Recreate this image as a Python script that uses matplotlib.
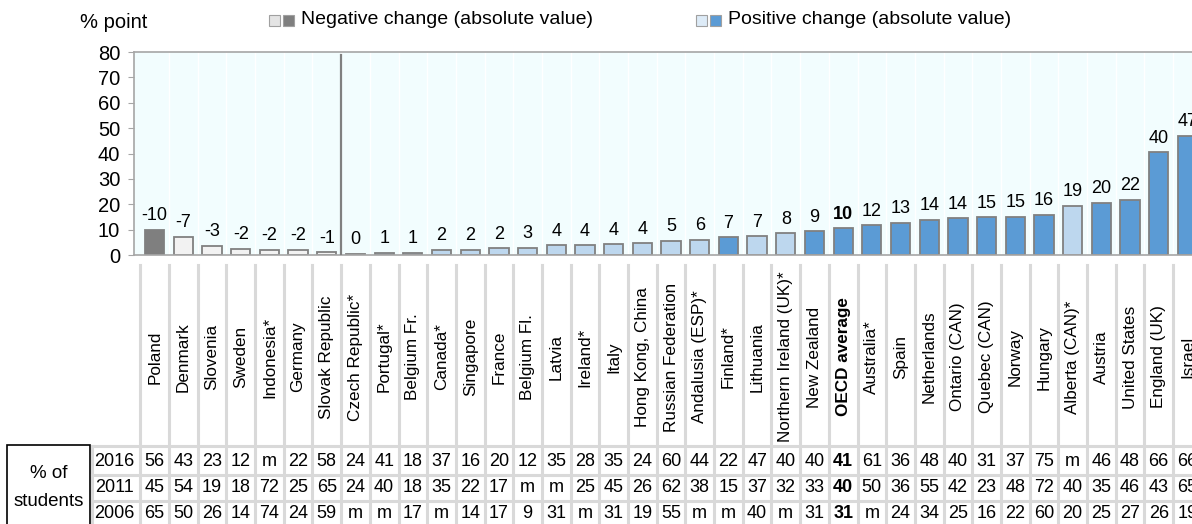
import matplotlib
matplotlib.use("Agg")
import matplotlib.pyplot as plt
import matplotlib.transforms as mtransforms
from matplotlib.patches import Rectangle
from matplotlib.lines import Line2D

countries = [
    "Poland", "Denmark", "Slovenia", "Sweden", "Indonesia*", "Germany",
    "Slovak Republic", "Czech Republic*", "Portugal*", "Belgium Fr.", "Canada*",
    "Singapore", "France", "Belgium Fl.", "Latvia", "Ireland*", "Italy",
    "Hong Kong, China", "Russian Federation", "Andalusia (ESP)*", "Finland*",
    "Lithuania", "Northern Ireland (UK)*", "New Zealand", "OECD average",
    "Australia*", "Spain", "Netherlands", "Ontario (CAN)", "Quebec (CAN)",
    "Norway", "Hungary", "Alberta (CAN)*", "Austria", "United States",
    "England (UK)", "Israel",
]
# absolute change (bar height) and printed label
change_abs = [9.9, 7.1, 3.7, 2.4, 2.0, 2.0, 1.0, 0.5, 0.9, 0.9, 2.1, 2.1, 2.7,
              2.9, 3.9, 3.9, 4.3, 4.7, 5.7, 6.0, 6.9, 7.3, 8.6, 9.3, 10.5,
              11.8, 12.6, 13.9, 14.5, 14.8, 15.0, 15.8, 19.5, 20.5, 21.7, 40.5,
              47.0]
change_lbl = ["-10", "-7", "-3", "-2", "-2", "-2", "-1", "0", "1", "1", "2",
              "2", "2", "3", "4", "4", "4", "4", "5", "6", "7", "7", "8", "9",
              "10", "12", "13", "14", "14", "15", "15", "16", "19", "20", "22",
              "40", "47"]
negative = [True] * 7 + [False] * 30
significant = [True, False, False, False, False, False, False, False, False,
               False, False, False, False, False, False, False, False, False,
               False, False, True, False, False, True, True, True, True, True,
               True, True, True, True, False, True, True, True, True]

years = ["2016", "2011", "2006"]
pct_2016 = ["56", "43", "23", "12", "m", "22", "58", "24", "41", "18", "37",
            "16", "20", "12", "35", "28", "35", "24", "60", "44", "22", "47",
            "40", "40", "41", "61", "36", "48", "40", "31", "37", "75", "m",
            "46", "48", "66", "66"]
pct_2011 = ["45", "54", "19", "18", "72", "25", "65", "24", "40", "18", "35",
            "22", "17", "m", "m", "25", "45", "26", "62", "38", "15", "37",
            "32", "33", "40", "50", "36", "55", "42", "23", "48", "72", "40",
            "35", "46", "43", "65"]
pct_2006 = ["65", "50", "26", "14", "74", "24", "59", "m", "m", "17", "m",
            "14", "17", "9", "31", "m", "31", "19", "55", "m", "m", "40", "m",
            "31", "31", "m", "24", "34", "25", "16", "22", "60", "20", "25",
            "27", "26", "19"]

W, H = 1192, 524
FONT = ["Liberation Sans", "DejaVu Sans"]


def fx(px):
    return px / W


def fy(px):
    return 1 - px / H


fig = plt.figure(figsize=(W / 100, H / 100), dpi=100)
ax = fig.add_axes([fx(134), fy(255), (W - 134) / W, (255 - 52) / H])
ax.set_facecolor("#F2FDFE")

colors = []
for neg, sig in zip(negative, significant):
    if neg:
        colors.append("#7F7F7F" if sig else "#F2F2F2")
    else:
        colors.append("#5B9BD5" if sig else "#BDD7EE")

x = list(range(len(countries)))
for i in x[:-1]:
    ax.axvline(i + 0.5, color="white", lw=1, zorder=0)
ax.bar(x, change_abs, width=0.67, color=colors, edgecolor="#808080",
       linewidth=1.3, zorder=2)
for i, (h, lbl) in enumerate(zip(change_abs, change_lbl)):
    bold = countries[i] == "OECD average"
    ax.annotate(lbl, (i, h), xytext=(0, 4), textcoords="offset points",
                ha="center", va="bottom", fontsize=13, family=FONT,
                fontweight="bold" if bold else "normal", zorder=3)

ax.plot([6.5, 6.5], [0, 79], color="#808080", lw=1.6, zorder=3)

ax.set_xlim(-0.72, 36.16)
ax.set_ylim(0, 80)
ax.set_yticks(range(0, 81, 10))
ax.set_xticks([])
ax.spines["right"].set_visible(False)
for s in ["left", "bottom", "top"]:
    ax.spines[s].set_color("#A6A6A6")
    ax.spines[s].set_linewidth(1.2)
ax.tick_params(axis="y", length=4, color="#A6A6A6", pad=6, labelsize=14.5)
for t in ax.get_yticklabels():
    t.set_family(FONT)

fig.text(fx(80), fy(22), "% point", fontsize=14.5, family=FONT,
         ha="left", va="center")


# legend
def legend_item(x0, light, dark, label):
    for k, c in enumerate([light, dark]):
        fig.add_artist(Rectangle((fx(x0 + k * 14), fy(26)), fx(11), 11 / H,
                                 facecolor=c, edgecolor="#A0A0A0", lw=0.8))
    fig.text(fx(x0 + 32), fy(20), label, fontsize=14, family=FONT,
             ha="left", va="center")


legend_item(269, "#E4E4E4", "#7F7F7F", "Negative change (absolute value)")
legend_item(696, "#DDEBF7", "#5B9BD5", "Positive change (absolute value)")

# category labels and table
tr = mtransforms.blended_transform_factory(ax.transData, fig.transFigure)
grid_c = "#D9D9D9"
for i in range(len(countries) + 1):
    fig.add_artist(Line2D([i - 0.5, i - 0.5], [fy(265), 0], transform=tr,
                          color=grid_c, lw=2.2))
for ypx in [446, 475, 501]:
    fig.add_artist(Line2D([fx(92), 1], [fy(ypx), fy(ypx)], color=grid_c,
                          lw=2.2))
fig.add_artist(Line2D([fx(92), fx(92)], [fy(446), 0], color=grid_c, lw=2.2))

for i, name in enumerate(countries):
    bold = name == "OECD average"
    fig.text(i, fy(357), name, transform=tr, rotation=90, ha="center",
             va="center", fontsize=12.3, family=FONT,
             fontweight="bold" if bold else "normal")

row_y = [461, 488, 514]
for yr, vals, ypx in zip(years, [pct_2016, pct_2011, pct_2006], row_y):
    fig.text(fx(114), fy(ypx), yr, ha="center", va="center", fontsize=13,
             family=FONT)
    for i, v in enumerate(vals):
        bold = countries[i] == "OECD average"
        fig.text(i, fy(ypx), v, transform=tr, ha="center", va="center",
                 fontsize=13, family=FONT,
                 fontweight="bold" if bold else "normal")

fig.add_artist(Rectangle((fx(7), fy(530)), fx(83), (530 - 445) / H,
                         facecolor="white", edgecolor="black", lw=1.2))
fig.text(fx(49), fy(473), "% of", ha="center", va="center", fontsize=13.5,
         family=FONT)
fig.text(fx(49), fy(501), "students", ha="center", va="center", fontsize=13.5,
         family=FONT)

fig.savefig("out.png", dpi=100)
